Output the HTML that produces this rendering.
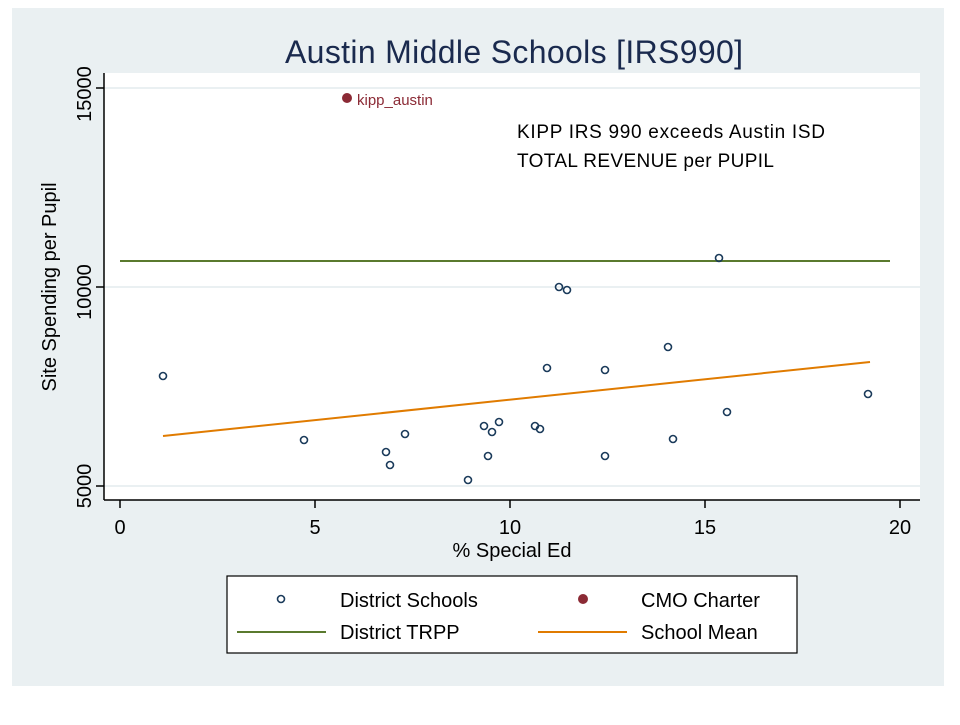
<!DOCTYPE html>
<html><head><style>body{margin:0;background:#fff}</style></head><body>
<svg width="960" height="720" xmlns="http://www.w3.org/2000/svg" font-family="Liberation Sans, Arial, sans-serif">
<rect x="0" y="0" width="960" height="720" fill="#fff"/>
<rect x="12" y="8" width="932" height="678" fill="#eaf0f2"/>
<rect x="104" y="73" width="816" height="427" fill="#fff"/>
<line x1="104" y1="88" x2="920" y2="88" stroke="#eaf0f2" stroke-width="2"/>
<line x1="104" y1="287" x2="920" y2="287" stroke="#eaf0f2" stroke-width="2"/>
<line x1="104" y1="486" x2="920" y2="486" stroke="#eaf0f2" stroke-width="2"/>
<text x="514" y="63" font-size="32" fill="#1a2a4e" text-anchor="middle" textLength="458">Austin Middle Schools [IRS990]</text>
<line x1="104" y1="73" x2="104" y2="500" stroke="#000" stroke-width="1.5"/>
<line x1="104" y1="500" x2="920" y2="500" stroke="#000" stroke-width="1.5"/>
<g stroke="#000" stroke-width="1.5">
<line x1="96" y1="88" x2="104" y2="88"/><line x1="96" y1="287" x2="104" y2="287"/><line x1="96" y1="486" x2="104" y2="486"/>
<line x1="120" y1="500" x2="120" y2="508"/><line x1="315" y1="500" x2="315" y2="508"/><line x1="510" y1="500" x2="510" y2="508"/><line x1="705" y1="500" x2="705" y2="508"/><line x1="900" y1="500" x2="900" y2="508"/>
</g>
<g font-size="20" fill="#000" text-anchor="middle">
<text transform="translate(91,94) rotate(-90)">15000</text>
<text transform="translate(91,292) rotate(-90)">10000</text>
<text transform="translate(91,486) rotate(-90)">5000</text>
<text x="120" y="534">0</text><text x="315" y="534">5</text><text x="510" y="534">10</text><text x="705" y="534">15</text><text x="900" y="534">20</text>
<text x="512" y="557">% Special Ed</text>
<text transform="translate(56,287) rotate(-90)">Site Spending per Pupil</text>
</g>
<line x1="120" y1="261" x2="890" y2="261" stroke="#5a7a2e" stroke-width="2"/>
<line x1="163" y1="436" x2="870" y2="362" stroke="#e07b00" stroke-width="2"/>
<g fill="none" stroke="#1a3a5a" stroke-width="1.6">
<circle cx="163" cy="376" r="3.5"/><circle cx="304" cy="440" r="3.5"/><circle cx="386" cy="452" r="3.5"/><circle cx="390" cy="465" r="3.5"/><circle cx="405" cy="434" r="3.5"/><circle cx="468" cy="480" r="3.5"/><circle cx="484" cy="426" r="3.5"/><circle cx="488" cy="456" r="3.5"/><circle cx="492" cy="432" r="3.5"/><circle cx="499" cy="422" r="3.5"/><circle cx="535" cy="426" r="3.5"/><circle cx="540" cy="429" r="3.5"/><circle cx="547" cy="368" r="3.5"/><circle cx="559" cy="287" r="3.5"/><circle cx="567" cy="290" r="3.5"/><circle cx="605" cy="370" r="3.5"/><circle cx="605" cy="456" r="3.5"/><circle cx="668" cy="347" r="3.5"/><circle cx="673" cy="439" r="3.5"/><circle cx="719" cy="258" r="3.5"/><circle cx="727" cy="412" r="3.5"/><circle cx="868" cy="394" r="3.5"/>
</g>
<circle cx="347" cy="98" r="5" fill="#8b2a35"/>
<text x="357" y="105" font-size="15" fill="#8b2a35">kipp_austin</text>
<text x="517" y="138" font-size="19" fill="#000" textLength="308">KIPP IRS 990 exceeds Austin ISD</text>
<text x="517" y="167" font-size="19" fill="#000" textLength="257">TOTAL REVENUE per PUPIL</text>
<rect x="227" y="576" width="570" height="77" fill="#fff" stroke="#000" stroke-width="1.2"/>
<circle cx="281" cy="599" r="3.5" fill="none" stroke="#1a3a5a" stroke-width="1.6"/>
<circle cx="583" cy="599" r="5" fill="#8b2a35"/>
<line x1="237" y1="632" x2="326" y2="632" stroke="#5a7a2e" stroke-width="2"/>
<line x1="538" y1="632" x2="627" y2="632" stroke="#e07b00" stroke-width="2"/>
<g font-size="20" fill="#000">
<text x="340" y="607">District Schools</text><text x="641" y="607">CMO Charter</text>
<text x="340" y="639">District TRPP</text><text x="641" y="639">School Mean</text>
</g>
</svg>
</body></html>
